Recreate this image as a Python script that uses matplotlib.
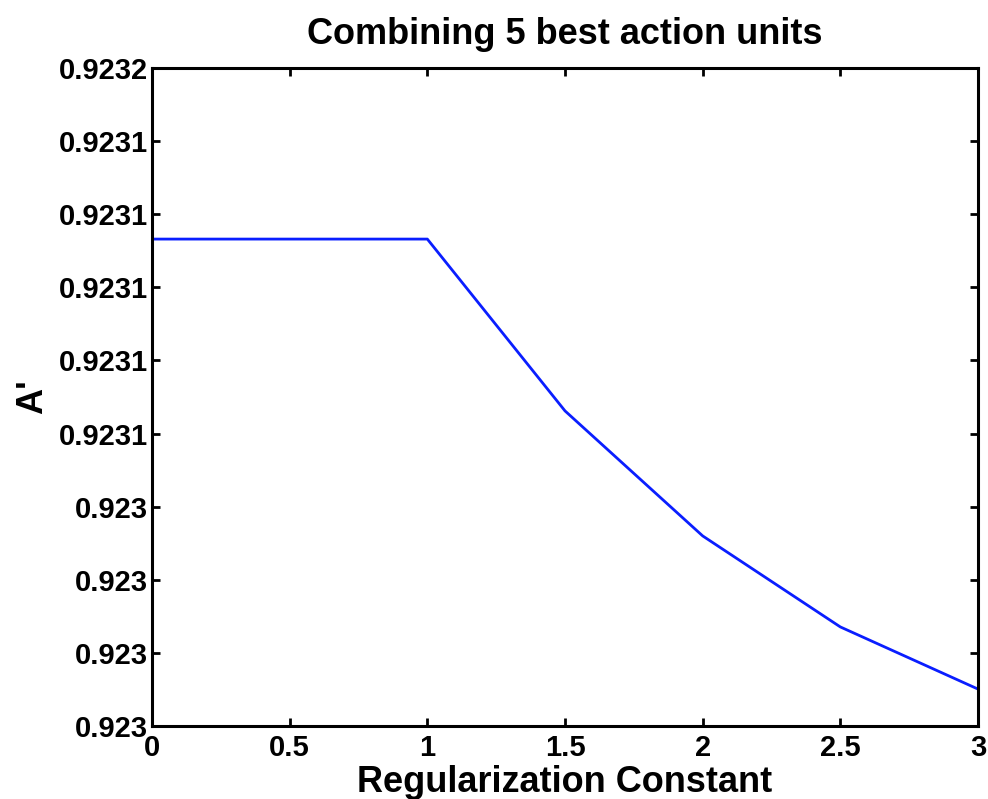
import numpy as np
import matplotlib.pyplot as plt
from matplotlib.ticker import FuncFormatter

# values
reg_const = [0, 0.5, 1, 1.5, 2, 2.5, 3]
a_prime = [0.9231132, 0.9231132, 0.9231132, 0.9230662, 0.9230320, 0.9230071, 0.9229901]
y_ticks = [0.92298 + 0.00002 * i for i in range(10)]
x_ticks = [0, 0.5, 1, 1.5, 2, 2.5, 3]

plt.rcParams['font.family'] = ['Liberation Sans', 'DejaVu Sans']
plt.rcParams['font.weight'] = 'bold'

fig = plt.figure(figsize=(9.88, 7.99), dpi=100)
ax = fig.add_axes([152 / 988, 1 - 726 / 799, (978 - 152) / 988, (726 - 68) / 799])

ax.plot(reg_const, a_prime, color="#0a1eff", linewidth=2.0)

ax.set_xlim(0, 3)
ax.set_ylim(y_ticks[0], y_ticks[-1])
ax.set_xticks(x_ticks)
ax.set_yticks(y_ticks)
ax.xaxis.set_major_formatter(FuncFormatter(lambda v, p: "%g" % v))
ax.yaxis.set_major_formatter(FuncFormatter(lambda v, p: "%.4g" % v))

ax.tick_params(direction="in", length=6, width=2, top=True, right=True,
               labelsize=21)
ax.tick_params(axis="x", pad=6)
ax.tick_params(axis="y", pad=3)
for lab in ax.get_xticklabels() + ax.get_yticklabels():
    lab.set_fontweight("bold")
for s in ax.spines.values():
    s.set_linewidth(2.2)

ax.set_xlabel("Regularization Constant", fontsize=26, fontweight="bold", labelpad=2)
ax.set_ylabel("A'", fontsize=26, fontweight="bold", labelpad=6)
ax.set_title("Combining 5 best action units", fontsize=26, fontweight="bold", pad=17)

fig.savefig("out.png", dpi=100)
